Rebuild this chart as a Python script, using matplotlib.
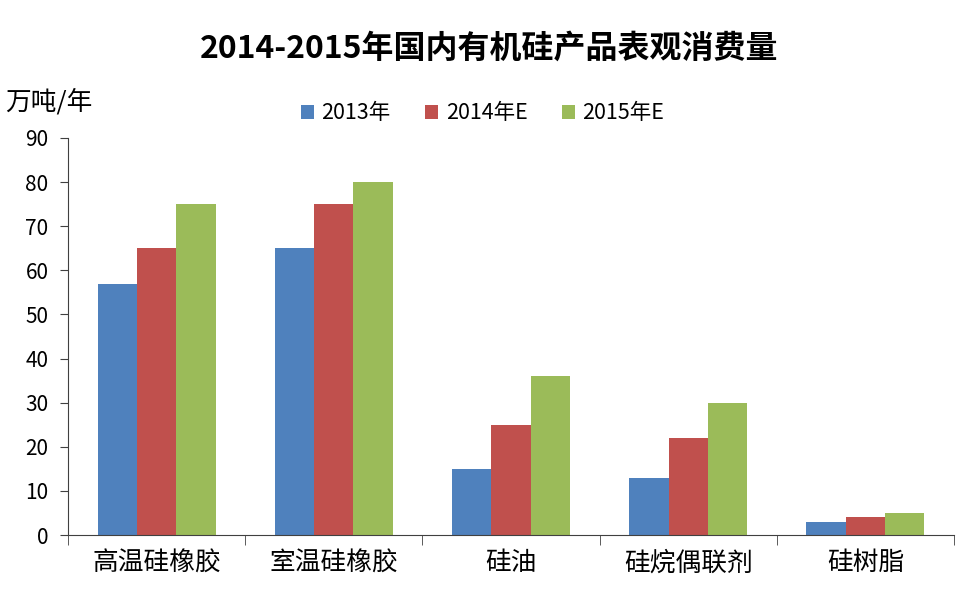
import matplotlib
matplotlib.use("Agg")
import matplotlib.pyplot as plt
import numpy as np

plt.rcParams['font.family'] = ['Noto Sans CJK SC', 'DejaVu Sans']

categories = ["高温硅橡胶", "室温硅橡胶", "硅油", "硅烷偶联剂", "硅树脂"]
series_names = ["2013年", "2014年E", "2015年E"]
v2013 = [57, 65, 15, 13, 3]
v2014 = [65, 75, 25, 22, 4]
v2015 = [75, 80, 36, 30, 5]
colors = ["#4F81BD", "#C0504D", "#9BBB59"]

fig = plt.figure(figsize=(9.78, 5.9), dpi=100)
ax = fig.add_axes([0.0695, 0.0932, 0.906, 0.673])

x = np.arange(len(categories))
w = 0.222
for i, (vals, name) in enumerate(zip([v2013, v2014, v2015], series_names)):
    ax.bar(x + (i - 1) * w, vals, w, color=colors[i], label=name)

ax.set_xlim(-0.5, len(categories) - 0.5)
ax.set_ylim(0, 90)
ax.set_yticks(range(0, 91, 10))
ax.set_xticks(x)
ax.set_xticklabels(categories, fontsize=18.5)
# category separators as tick marks
ax.set_xticks(np.arange(-0.5, len(categories), 1), minor=True)
ax.tick_params(axis='x', which='major', length=0, pad=11)
ax.tick_params(axis='x', which='minor', length=7, direction='out', color='#404040')
ax.tick_params(axis='y', length=6, direction='out', labelsize=15, pad=8, color='#404040')

for s in ['top', 'right']:
    ax.spines[s].set_visible(False)
ax.spines['left'].set_color('#404040')
ax.spines['bottom'].set_color('#404040')

fig.text(0.5, 0.918, "2014-2015年国内有机硅产品表观消费量", ha='center', va='center',
         fontsize=23, fontweight='bold')
fig.text(0.005, 0.826, "万吨/年", ha='left', va='center', fontsize=18.5)

ax.legend(loc='center', bbox_to_anchor=(0.468, 1.062), ncol=3, frameon=False,
          fontsize=15.5, handlelength=0.6, handleheight=0.6, handletextpad=0.35,
          columnspacing=1.6)

fig.savefig("out.png", dpi=100)
